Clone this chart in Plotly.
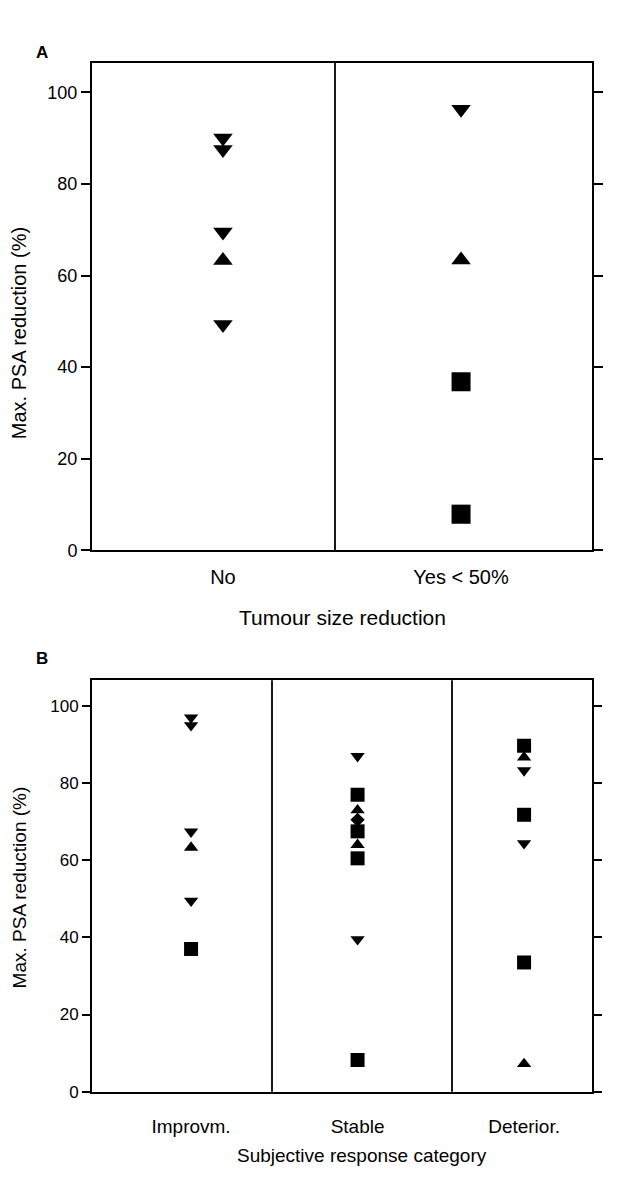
import plotly.graph_objects as go

# ---------------- data ----------------
A_categories = ["No", "Yes < 50%"]
A_down_x = ["No", "No", "No", "No", "Yes < 50%"]
A_down_y = [90.0, 87.5, 69.5, 49.3, 96.3]
A_up_x = ["No", "Yes < 50%"]
A_up_y = [63.3, 63.4]
A_sq_x = ["Yes < 50%", "Yes < 50%"]
A_sq_y = [36.8, 7.9]

B_categories = ["Improvm.", "Stable", "Deterior."]
B_down_x = ["Improvm.", "Improvm.", "Improvm.", "Improvm.", "Stable", "Stable", "Deterior.", "Deterior."]
B_down_y = [97.0, 95.0, 67.4, 49.5, 87.0, 39.5, 83.3, 64.4]
B_up_x = ["Improvm.", "Stable", "Stable", "Deterior.", "Deterior."]
B_up_y = [63.3, 73.0, 64.0, 86.7, 7.2]
B_sq_x = ["Improvm.", "Stable", "Stable", "Stable", "Stable", "Deterior.", "Deterior.", "Deterior."]
B_sq_y = [37.0, 77.0, 67.5, 60.5, 8.2, 89.7, 71.8, 33.5]
B_dia_x = ["Stable"]
B_dia_y = [70.5]

y_ticks = [0, 20, 40, 60, 80, 100]

# the page body has an 8px margin, so the figure is offset by 8px
OFF = 8
W, H = 626 - OFF, 1177 - OFF
FONT = "Liberation Sans, Arial, Helvetica, sans-serif"


def px_x(p):
    return (p - OFF) / W


def px_y(p):
    return 1 - (p - OFF) / H


fig = go.Figure()

mk_line = dict(width=0)
# Panel A
fig.add_trace(go.Scatter(x=A_down_x, y=A_down_y, mode="markers", xaxis="x", yaxis="y",
                         marker=dict(symbol="triangle-down", size=17, color="black", line=mk_line)))
fig.add_trace(go.Scatter(x=A_up_x, y=A_up_y, mode="markers", xaxis="x", yaxis="y",
                         marker=dict(symbol="triangle-up", size=17, color="black", line=mk_line)))
fig.add_trace(go.Scatter(x=A_sq_x, y=A_sq_y, mode="markers", xaxis="x", yaxis="y",
                         marker=dict(symbol="square", size=19, color="black", line=mk_line)))
# Panel B
fig.add_trace(go.Scatter(x=B_down_x, y=B_down_y, mode="markers", xaxis="x2", yaxis="y2",
                         marker=dict(symbol="triangle-down", size=12.5, color="black", line=mk_line)))
fig.add_trace(go.Scatter(x=B_up_x, y=B_up_y, mode="markers", xaxis="x2", yaxis="y2",
                         marker=dict(symbol="triangle-up", size=12.5, color="black", line=mk_line)))
fig.add_trace(go.Scatter(x=B_sq_x, y=B_sq_y, mode="markers", xaxis="x2", yaxis="y2",
                         marker=dict(symbol="square", size=14, color="black", line=mk_line)))
fig.add_trace(go.Scatter(x=B_dia_x, y=B_dia_y, mode="markers", xaxis="x2", yaxis="y2",
                         marker=dict(symbol="diamond", size=11, color="black", line=mk_line)))

x_dom = [px_x(92), px_x(592)]

common_y = dict(tickvals=y_ticks, ticks="outside", tickwidth=2, tickcolor="black",
                showline=True, linecolor="black", linewidth=2, mirror="ticks",
                showgrid=False, zeroline=False, color="black")
common_x = dict(type="category", ticks="", showline=True, linecolor="black", linewidth=2,
                mirror=True, showgrid=False, zeroline=False, color="black")

fig.update_layout(
    width=W, height=H,
    margin=dict(l=0, r=0, t=0, b=0),
    paper_bgcolor="white", plot_bgcolor="white",
    showlegend=False,
    font=dict(family=FONT, color="black"),
    xaxis=dict(domain=x_dom, anchor="y", categoryarray=A_categories, categoryorder="array",
               range=[-0.55, 1.55], tickfont=dict(size=20), ticklabelstandoff=8, **common_x),
    yaxis=dict(domain=[px_y(555), px_y(63)], anchor="x", range=[0, 106.5], ticklen=9,
               tickfont=dict(size=18), **common_y),
    xaxis2=dict(domain=x_dom, anchor="y2", categoryarray=B_categories, categoryorder="array",
                range=[-0.595, 2.408], tickfont=dict(size=19), ticklabelstandoff=17, **common_x),
    yaxis2=dict(domain=[px_y(1101), px_y(686)], anchor="x2", range=[0, 106.7], ticklen=8,
                tickfont=dict(size=17), **common_y),
)

# Category dividers
fig.add_shape(type="line", xref="x domain", yref="y domain", x0=0.486, x1=0.486, y0=0, y1=1,
              line=dict(color="black", width=1.8))
fig.add_shape(type="line", xref="x2 domain", yref="y2 domain", x0=0.36, x1=0.36, y0=0, y1=1,
              line=dict(color="black", width=1.8))
fig.add_shape(type="line", xref="x2 domain", yref="y2 domain", x0=0.72, x1=0.72, y0=0, y1=1,
              line=dict(color="black", width=1.8))

ann = [
    dict(text="<b>A</b>", x=px_x(42), y=px_y(53), size=17),
    dict(text="<b>B</b>", x=px_x(42), y=px_y(664), size=17),
    dict(text="Tumour size reduction", x=px_x(342), y=px_y(623), size=21),
    dict(text="Subjective response category", x=px_x(362), y=px_y(1165), size=19),
]
for a in ann:
    fig.add_annotation(text=a["text"], x=a["x"], y=a["y"], xref="paper", yref="paper",
                       showarrow=False, xanchor="center", yanchor="middle",
                       font=dict(size=a["size"], family=FONT, color="black"))
fig.add_annotation(text="Max. PSA reduction (%)", x=px_x(19), y=px_y(336), xref="paper", yref="paper",
                   showarrow=False, textangle=-90, xanchor="center", yanchor="middle",
                   font=dict(size=20, family=FONT, color="black"))
fig.add_annotation(text="Max. PSA reduction (%)", x=px_x(19), y=px_y(895), xref="paper", yref="paper",
                   showarrow=False, textangle=-90, xanchor="center", yanchor="middle",
                   font=dict(size=19, family=FONT, color="black"))

fig.write_html("out.html")
